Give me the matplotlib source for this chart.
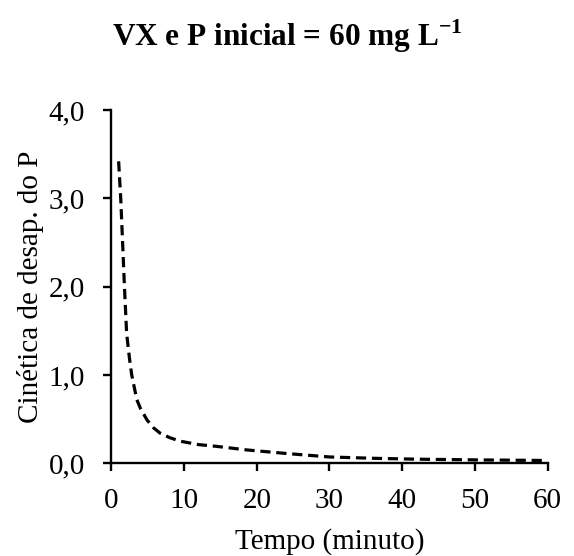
import matplotlib
matplotlib.use("Agg")
import matplotlib.pyplot as plt
from matplotlib.ticker import FuncFormatter

# Cinética de desaparecimento do P (VX, P inicial = 60 mg/L)
tempo = [1.0, 1.3, 1.8, 2.1, 2.5, 2.8, 3.5, 4.0, 4.9, 5.8, 6.7, 8.0, 9.4,
         12.0, 14.5, 18.6, 24.0, 30.0, 36.0, 42.0, 50.0, 60.0]
cinetica = [3.42, 2.98, 2.00, 1.47, 1.18, 1.00, 0.72, 0.62, 0.49, 0.40, 0.34,
            0.29, 0.25, 0.21, 0.19, 0.15, 0.11, 0.07, 0.055, 0.045, 0.037, 0.03]

x_ticks = [0, 10, 20, 30, 40, 50, 60]
y_ticks = [0, 1, 2, 3, 4]

plt.rcParams["font.family"] = ["Liberation Serif", "DejaVu Serif"]
plt.rcParams["mathtext.fontset"] = "custom"
plt.rcParams["mathtext.rm"] = "Liberation Serif"
plt.rcParams["mathtext.bf"] = "Liberation Serif:bold"

fig = plt.figure(figsize=(5.74, 5.56), dpi=100)
ax = fig.add_axes([0.194, 0.167, 0.760, 0.635])

ax.plot(tempo, cinetica, color="black", linestyle=(0, (3.2, 1.8)), linewidth=2.3)

ax.set_xlim(0, 60)
ax.set_ylim(0, 4)
ax.set_xticks(x_ticks)
ax.set_yticks(y_ticks)
ax.yaxis.set_major_formatter(FuncFormatter(lambda v, p: f"{v:.1f}".replace(".", ",")))

for side in ("top", "right"):
    ax.spines[side].set_visible(False)
for side in ("left", "bottom"):
    ax.spines[side].set_linewidth(1.7)
ax.tick_params(direction="out", length=6, width=1.7, labelsize=21)
ax.tick_params(axis="x", pad=12)
ax.tick_params(axis="y", pad=13)

ax.set_xlabel("Tempo (minuto)", fontsize=21, labelpad=10)
ax.set_ylabel("Cinética de desap. do P", fontsize=21, labelpad=3)

fig.text(0.5, 0.935, r"VX e P inicial = 60 mg L$^{\mathbf{-1}}$",
         ha="center", va="center", fontsize=22.5, fontweight="bold")

fig.savefig("out.png", dpi=100)
